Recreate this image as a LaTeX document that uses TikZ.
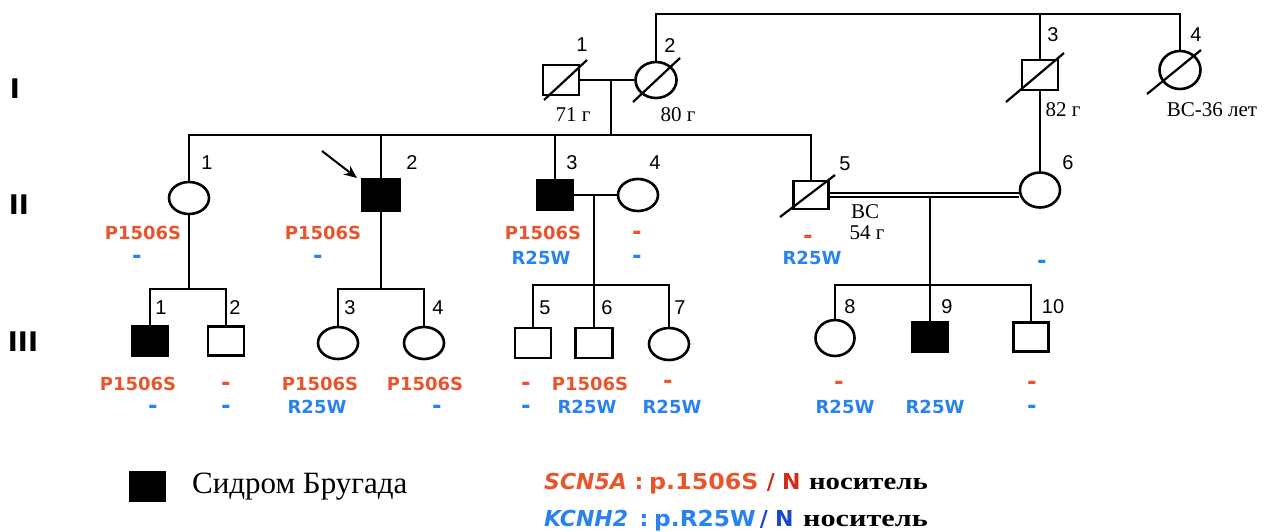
\documentclass[tikz,border=0pt]{standalone}
\usepackage{graphicx}
\usepackage{fontspec}
\setmainfont{Liberation Serif}
\setsansfont{Liberation Sans}
\newfontfamily\djv{DejaVu Sans}
\usetikzlibrary{shapes.geometric,arrows.meta,calc}
\definecolor{redc}{RGB}{232,85,45}
\definecolor{bluec}{RGB}{40,130,240}
\definecolor{darkredc}{RGB}{210,45,25}
\definecolor{darkbluec}{RGB}{25,70,210}
\begin{document}
\begin{tikzpicture}[x=1pt,y=-1pt,
  ln/.style={line width=2.6pt, line join=miter},
  male/.style={draw, line width=2.6pt, rectangle, minimum width=36pt, minimum height=30pt, inner sep=0pt, fill=white},
  aff/.style={male, fill=black},
  fem/.style={draw, line width=2.6pt, ellipse, minimum width=40pt, minimum height=32pt, inner sep=0pt, fill=white},
  slash/.style={line width=2.2pt},
  num/.style={font=\sffamily\fontsize{20}{20}\selectfont, inner sep=0pt},
  age/.style={font=\fontsize{21}{21}\selectfont, inner sep=0pt},
  mr/.style={font=\djv\bfseries\fontsize{18}{18}\selectfont, text=redc, inner sep=0pt},
  mb/.style={font=\djv\bfseries\fontsize{18}{18}\selectfont, text=bluec, inner sep=0pt},
  dr/.style={font=\djv\bfseries\fontsize{23}{23}\selectfont, text=redc, inner sep=0pt},
  db/.style={font=\djv\bfseries\fontsize{23}{23}\selectfont, text=bluec, inner sep=0pt},
  gen/.style={font=\djv\bfseries\fontsize{27}{27}\selectfont, inner sep=0pt},
  leg/.style={font=\djv\bfseries\fontsize{22}{22}\selectfont, inner sep=0pt, anchor=base west},
  legc/.style={font=\djv\bfseries\fontsize{22}{22}\selectfont, inner sep=0pt, anchor=base},
  legs/.style={font=\bfseries\fontsize{24}{24}\selectfont, inner sep=0pt, anchor=base east},
]
\useasboundingbox (0,0) rectangle (1266,531);

% generation labels
\node[gen] (gI) at (15,89) {I};
\node[gen] (gII) at (19,205) {II};
\node[gen] (gIII) at (23,342) {III};

% generation I
\node[male] (I1) at (561,80) {};
\node[fem, minimum width=41pt, minimum height=36pt] (I2) at (656,80) {};
\node[male] (I3) at (1040,75) {};
\node[fem, minimum width=41pt, minimum height=38pt] (I4) at (1180,70) {};

% generation II
\node[fem] (II1) at (189,198) {};
\node[aff, minimum width=37pt, minimum height=31pt] (II2) at (381,195) {};
\node[aff, minimum width=35pt] (II3) at (555,195) {};
\node[fem] (II4) at (638,195) {};
\node[male, minimum width=35pt, minimum height=28pt] (II5) at (811,195) {};
\node[fem, minimum height=35pt] (II6) at (1040,190) {};

% generation III
\node[aff, minimum width=35pt, minimum height=29pt] (III1) at (150,341) {};
\node[male, minimum height=29pt] (III2) at (226,341) {};
\node[fem] (III3) at (338,343) {};
\node[fem] (III4) at (424,343) {};
\node[male] (III5) at (533,343) {};
\node[male, minimum width=37pt] (III6) at (594,343) {};
\node[fem] (III7) at (669,344) {};
\node[fem, minimum width=39pt, minimum height=36pt] (III8) at (835,338) {};
\node[aff, minimum height=29pt] (III9) at (930,337) {};
\node[male, minimum width=35pt, minimum height=29pt] (III10) at (1031,337) {};

% connectors
\coordinate (top) at (0,14);
\coordinate (m1) at (611,80);
\coordinate (s1) at (611,135);
\coordinate (s2) at (0,289);
\coordinate (m3) at (594,195);
\coordinate (s3) at (0,285);
\coordinate (m5) at (930,197);
\coordinate (s5) at (0,285);

\draw[ln] (I1.east) -- (I2.west);
\draw[ln] (m1) -- (s1);
\draw[ln] (I2.north) -- (I2.north |- top) -- (I4.north |- top) -- (I4.north);
\draw[ln] (I3.north) -- (I3.north |- top);
\draw[ln] (I3.south) -- (II6.north);

\draw[ln] (II1.north) -- (II1.north |- s1) -- (II5.north |- s1) -- (II5.north);
\draw[ln] (II2.north) -- (II2.north |- s1);
\draw[ln] (II3.north) -- (II3.north |- s1);

\draw[ln] (II3.east) -- (II4.west);
\draw[line width=2pt, double, double distance=2.5pt] (II5.east) -- (II6.west |- II5.east);

\draw[ln] (II1.south) -- (II1.south |- s2);
\draw[ln] (III1.north) -- (III1.north |- s2) -- (III2.north |- s2) -- (III2.north);
\draw[ln] (II2.south) -- (II2.south |- s2);
\draw[ln] (III3.north) -- (III3.north |- s2) -- (III4.north |- s2) -- (III4.north);

\draw[ln] (m3) -- (III6.north);
\draw[ln] (III5.north) -- (III5.north |- s3) -- (III7.north |- s3) -- (III7.north);

\draw[ln] (m5) -- (III9.north);
\draw[ln] (III8.north) -- (III8.north |- s5) -- (III10.north |- s5) -- (III10.north);

% deceased slashes
\draw[slash] ($(I1)+(-17,20)$) -- ($(I1)+(26,-20)$);
\draw[slash] ($(I2)+(-23,22)$) -- ($(I2)+(24,-22)$);
\draw[slash] ($(I3)+(-34,27)$) -- ($(I3)+(24,-22)$);
\draw[slash] ($(I4)+(-33,24)$) -- ($(I4)+(21,-20)$);
\draw[slash] ($(II5)+(-31,22)$) -- ($(II5)+(24,-20)$);

% proband arrow
\coordinate (arS) at (322,151);
\coordinate (arE) at (357,178);
\draw[line width=2pt, -{Stealth[length=13pt,width=11pt]}] (arS) -- (arE);

% numbers
\node[num] (nI1) at (582,45) {1};
\node[num] (nI2) at (670,46) {2};
\node[num] (nI3) at (1053,35) {3};
\node[num] (nI4) at (1196,35) {4};
\node[num] (nII1) at (207,163) {1};
\node[num] (nII2) at (412,163) {2};
\node[num] (nII3) at (572,163) {3};
\node[num] (nII4) at (655,163) {4};
\node[num] (nII5) at (845,164) {5};
\node[num] (nII6) at (1068,163) {6};
\node[num] (nIII1) at (161,308) {1};
\node[num] (nIII2) at (235,308) {2};
\node[num] (nIII3) at (350,308) {3};
\node[num] (nIII4) at (438,308) {4};
\node[num] (nIII5) at (545,308) {5};
\node[num] (nIII6) at (607,308) {6};
\node[num] (nIII7) at (680,308) {7};
\node[num] (nIII8) at (850,307) {8};
\node[num] (nIII9) at (947,307) {9};
\node[num] (nIII10) at (1053,307) {10};

% ages
\node[age] (aI1) at (573,115) {71 г};
\node[age] (aI2) at (678,115) {80 г};
\node[age] (aI3) at (1063,110) {82 г};
\node[age] (aI4) at (1212,110) {ВС-36 лет};
\node[age] (aII5a) at (865,212) {ВС};
\node[age] (aII5b) at (867,233) {54 г};

% mutations
\node[mr] (rII1) at (143,233) {P1506S};
\node[db] (bII1) at (137,259) {-};
\node[mr] (rII2) at (323,233) {P1506S};
\node[db] (bII2) at (318,259) {-};
\node[mr] (rII3) at (543,233) {P1506S};
\node[mb] (bII3) at (541,258) {R25W};
\node[dr] (rII4) at (637,235) {-};
\node[db] (bII4) at (637,259) {-};
\node[dr] (rII5) at (808,239) {-};
\node[mb] (bII5) at (812,258) {R25W};
\node[db] (bII6) at (1042,264) {-};

\node[mr] (rIII1) at (138,384) {P1506S};
\node[db] (bIII1) at (153,409) {-};
\node[dr] (rIII2) at (226,386) {-};
\node[db] (bIII2) at (226,409) {-};
\node[mr] (rIII3) at (320,384) {P1506S};
\node[mb] (bIII3) at (317,407) {R25W};
\node[mr] (rIII4) at (425,384) {P1506S};
\node[db] (bIII4) at (437,409) {-};
\node[dr] (rIII5) at (526,386) {-};
\node[db] (bIII5) at (526,409) {-};
\node[mr] (rIII6) at (590,384) {P1506S};
\node[mb] (bIII6) at (587,407) {R25W};
\node[dr] (rIII7) at (668,384) {-};
\node[mb] (bIII7) at (672,407) {R25W};
\node[dr] (rIII8) at (839,385) {-};
\node[mb] (bIII8) at (845,407) {R25W};
\node[mb] (bIII9) at (935,407) {R25W};
\node[dr] (rIII10) at (1032,385) {-};
\node[db] (bIII10) at (1032,409) {-};

% legend
\node[aff, minimum width=37pt, minimum height=31pt, draw=none] (legsq) at (147,486) {};
\node[font=\fontsize{31}{31}\selectfont, inner sep=0pt, anchor=west] (legtxt) at (192,487) {Сидром Бругада};

\node[leg, text=redc] (l1a) at (544,489) {\itshape SCN5A};
\node[legc, text=redc] (l1b) at (639,489) {:};
\node[leg, text=redc] (l1c) at (649,489) {\scalebox{1.08}[1]{p.1506S}};
\node[legc, text=darkredc] (l1d) at (771,489) {/};
\node[leg, text=darkredc] (l1e) at (782,489) {N};
\node[legs] (l1f) at (928,489) {\scalebox{1.2}[1]{носитель}};

\node[leg, text=bluec] (l2a) at (544,526) {\itshape KCNH2};
\node[legc, text=bluec] (l2b) at (644,526) {:};
\node[leg, text=bluec] (l2c) at (654,526) {\scalebox{1.06}[1]{p.R25W}};
\node[legc, text=darkbluec] (l2d) at (764,526) {/};
\node[leg, text=darkbluec] (l2e) at (775,526) {N};
\node[legs] (l2f) at (928,526) {\scalebox{1.26}[1]{носитель}};
\end{tikzpicture}
\end{document}
